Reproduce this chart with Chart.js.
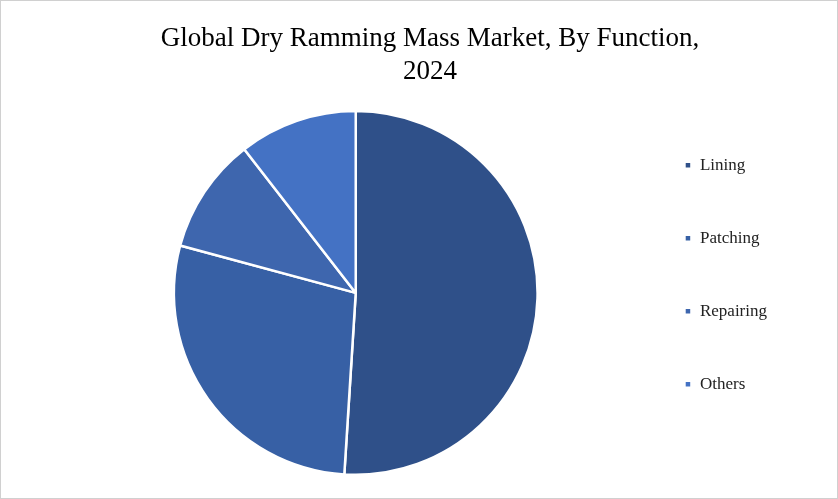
<!DOCTYPE html>
<html><head><meta charset="utf-8">
<script src="https://cdn.jsdelivr.net/npm/chart.js@4"></script>
<style>
html,body{margin:0;padding:0;background:#fff;}
#wrap{position:absolute;left:0;top:0;width:836px;height:497px;border:1px solid #d0d0d0;}
</style></head>
<body><div id="wrap"><canvas id="c"></canvas></div>
<script>
const categories = ['Lining', 'Patching', 'Repairing', 'Others'];
const shares = [51, 28.2, 10.3, 10.5];
const colors = ['#2F5089', '#3760A5', '#3E66AE', '#4472C4'];

new Chart(document.getElementById('c'), {
  type: 'pie',
  data: {
    labels: categories,
    datasets: [{
      data: shares,
      backgroundColor: colors,
      borderColor: '#ffffff',
      borderWidth: 2.5
    }]
  },
  options: {
    responsive: true,
    maintainAspectRatio: false,
    animation: false,
    layout: { padding: { left: 82, right: 60, top: 8, bottom: 22 } },
    plugins: {
      title: {
        display: true,
        text: ['Global Dry Ramming Mass Market, By Function,', '2024'],
        color: '#000',
        font: { family: 'Liberation Serif', size: 27, weight: 'normal' },
        padding: { top: 14, bottom: 22 }
      },
      legend: {
        position: 'right',
        title: { display: true, text: ' ', font: { size: 17 }, padding: 22 },
        labels: {
          color: '#222',
          font: { family: 'Liberation Serif', size: 17 },
          boxWidth: 7, boxHeight: 7,
          padding: 56
        }
      },
      tooltip: { enabled: false }
    }
  }
});
</script></body></html>
